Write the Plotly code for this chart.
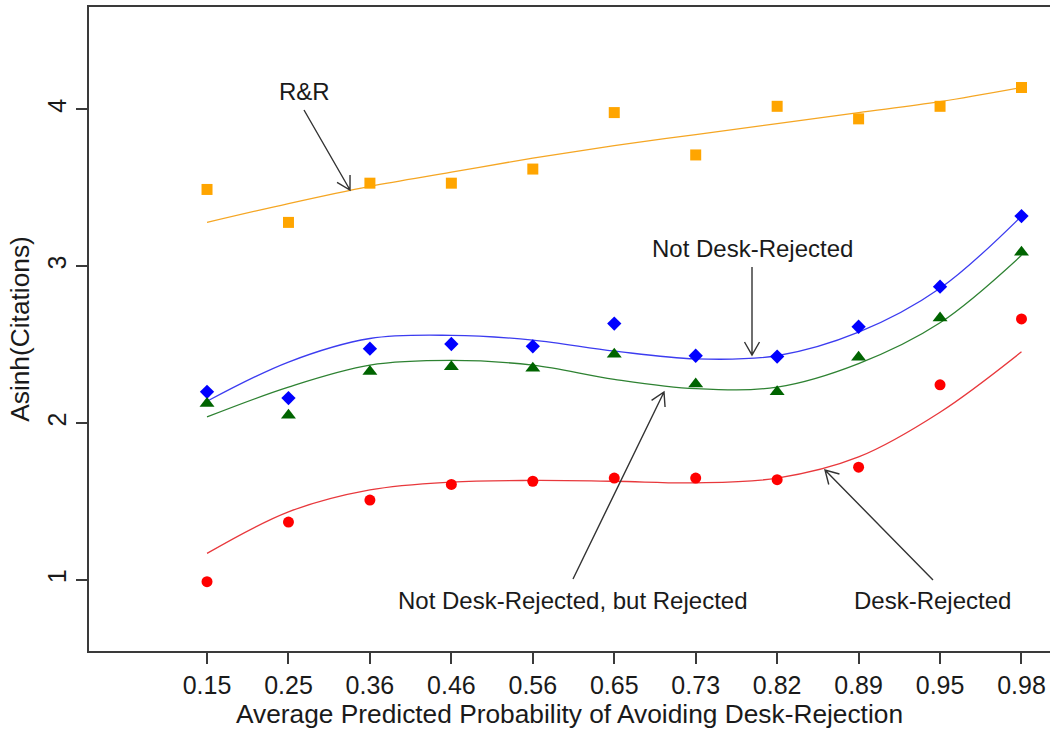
import math
import plotly.graph_objects as go

# ---------------- data ----------------
x_labels = ["0.15", "0.25", "0.36", "0.46", "0.56", "0.65", "0.73", "0.82", "0.89", "0.95", "0.98"]
x_pos = list(range(len(x_labels)))

rr_points = [3.49, 3.28, 3.53, 3.53, 3.62, 3.98, 3.71, 4.02, 3.94, 4.02, 4.14]
rr_fit = [3.28, 3.40, 3.51, 3.60, 3.69, 3.77, 3.84, 3.91, 3.98, 4.05, 4.14]

ndr_points = [2.20, 2.16, 2.475, 2.505, 2.49, 2.635, 2.43, 2.425, 2.615, 2.87, 3.32]
ndr_fit = [2.14, 2.39, 2.54, 2.56, 2.53, 2.46, 2.41, 2.43, 2.58, 2.86, 3.32]

ndrr_points = [2.125, 2.05, 2.33, 2.36, 2.35, 2.44, 2.25, 2.20, 2.42, 2.67, 3.09]
ndrr_fit = [2.04, 2.23, 2.37, 2.40, 2.37, 2.28, 2.22, 2.23, 2.38, 2.64, 3.07]

dr_points = [0.99, 1.37, 1.51, 1.61, 1.63, 1.65, 1.65, 1.64, 1.72, 2.245, 2.665]
dr_fit = [1.17, 1.435, 1.575, 1.625, 1.635, 1.63, 1.62, 1.65, 1.785, 2.07, 2.455]

y_ticks = [1, 2, 3, 4]

# ---------------- layout constants ----------------
W, H = 1050, 734
ML, MR, MT, MB = 89, 0, 7, 83
PW, PH = W - ML - MR, H - MT - MB
XR = [-1.449, 10.35]
YR = [0.548, 4.653]
FONT = "Liberation Sans, Arial, Helvetica, sans-serif"
TXT = "#1a1a1a"
AX = "#3a3a3a"

fig = go.Figure()

series = [
    (rr_points, rr_fit, "#FFA500", "#F5A623", "square", 11),
    (ndr_points, ndr_fit, "#0000FF", "#3C3CF0", "diamond", 11),
    (ndrr_points, ndrr_fit, "#006400", "#2E8232", "triangle-up", 13),
    (dr_points, dr_fit, "#FF0000", "#E8383C", "circle", 11),
]
for pts, fit, mcol, lcol, sym, sz in series:
    fig.add_trace(go.Scatter(
        x=x_pos, y=fit, mode="lines",
        line=dict(color=lcol, width=1.3, shape="spline", smoothing=1.0),
        hoverinfo="skip", showlegend=False))
    fig.add_trace(go.Scatter(
        x=x_pos, y=pts, mode="markers",
        marker=dict(symbol=sym, size=sz, color=mcol, line=dict(width=0)),
        showlegend=False))


def to_paper(px, py):
    return (px - ML) / PW, (MT + PH - py) / PH


def arrow_path(tail, head, arm=15, ang=30):
    tx, ty = tail
    hx, hy = head
    dx, dy = tx - hx, ty - hy
    L = math.hypot(dx, dy)
    ux, uy = dx / L, dy / L
    pts = []
    for s in (1, -1):
        a = math.radians(ang) * s
        rx = ux * math.cos(a) - uy * math.sin(a)
        ry = ux * math.sin(a) + uy * math.cos(a)
        pts.append((hx + rx * arm, hy + ry * arm))
    p = lambda q: "%f,%f" % to_paper(*q)
    return "M%s L%s M%s L%s L%s" % (p(tail), p(head), p(pts[0]), p(head), p(pts[1]))


labels = [
    ("R&R", (304, 91), (304, 110), (350, 190)),
    ("Not Desk-Rejected", (752, 248), (752, 267), (752, 355)),
    ("Not Desk-Rejected, but Rejected", (573, 600), (573, 579), (664, 392)),
    ("Desk-Rejected", (932, 600), (933, 580), (825, 470)),
]
for text, tpos, tail, head in labels:
    xp, yp = to_paper(*tpos)
    fig.add_annotation(x=xp, y=yp, xref="paper", yref="paper", text=text,
                       showarrow=False, xanchor="center", yanchor="middle",
                       font=dict(family=FONT, size=24, color=TXT))
    fig.add_shape(type="path", xref="paper", yref="paper",
                  path=arrow_path(tail, head),
                  line=dict(color="#333333", width=1.4))

fig.update_layout(
    width=W, height=H,
    margin=dict(l=ML, r=MR, t=MT, b=MB, pad=0),
    paper_bgcolor="white", plot_bgcolor="white",
    font=dict(family=FONT, size=24, color=TXT),
    showlegend=False,
)
fig.update_xaxes(
    range=XR, tickmode="array", tickvals=x_pos, ticktext=x_labels,
    showgrid=False, zeroline=False,
    showline=True, mirror=True, linecolor=AX, linewidth=1.5,
    ticks="outside", ticklen=11, tickwidth=1.5, tickcolor=AX,
    tickfont=dict(size=25, color=TXT),
    title=dict(text="Average Predicted Probability of Avoiding Desk-Rejection",
               font=dict(size=26.3, color=TXT), standoff=7),
)
fig.update_yaxes(
    range=YR, tickmode="array", tickvals=y_ticks, ticktext=[str(t) for t in y_ticks],
    showgrid=False, zeroline=False,
    showline=True, mirror=False, linecolor=AX, linewidth=1.5,
    ticks="outside", ticklen=11, tickwidth=1.5, tickcolor=AX,
    tickangle=-90, tickfont=dict(size=25, color=TXT),
    title=dict(text="Asinh(Citations)", font=dict(size=26.3, color=TXT), standoff=6),
)

fig.write_html("out.html", config={"displayModeBar": False},
               post_script="document.body.style.margin='0';")
